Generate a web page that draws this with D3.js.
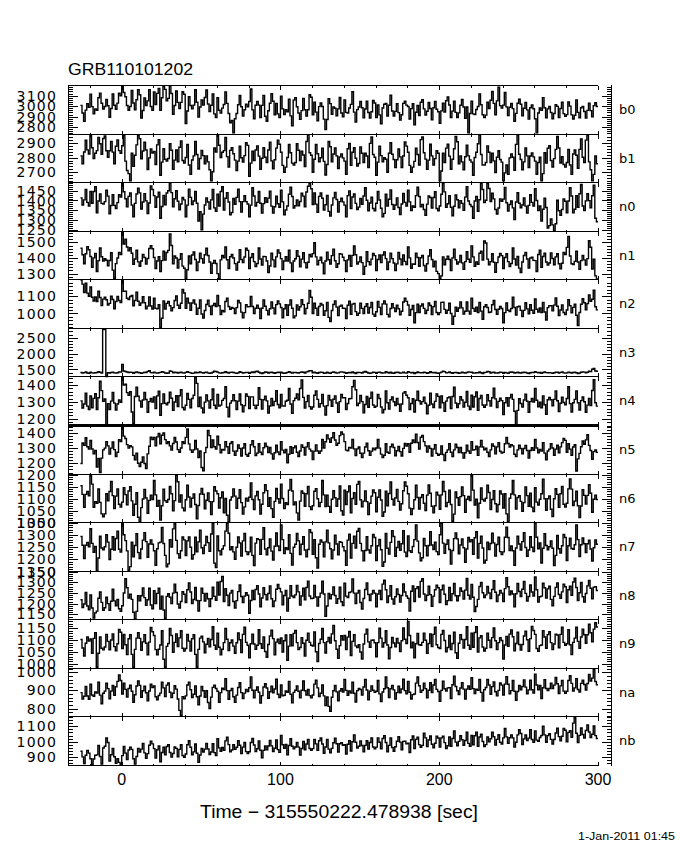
<!DOCTYPE html>
<html>
<head>
    <script src="https://d3js.org/d3.v7.min.js"></script>
    <title>GRB110101202</title>
</head>
<style>
    body {
        margin: 0;
        background-color: white;
    }
    text {
        font-family: 'DejaVu Sans';
        fill: black;
    }
</style>
<body>
<div id="chart"></div>
</body>
</html>

<script>
  // detectors, top panel first
  var detectors = ["b0", "b1", "n0", "n1", "n2", "n3", "n4", "n5", "n6", "n7", "n8", "n9", "na", "nb"];

  // y range and labelled tick step of every panel (counts / bin)
  var yRanges = [[2729, 3197], [2629, 2959], [1241, 1492], [1262, 1570], [912, 1199], [1278, 2794], [1160, 1451],
                 [1127, 1450], [1000, 1200], [1150, 1350], [1126, 1350], [980, 1188], [756, 1021], [846, 1163]];
  var ySteps = [100, 100, 50, 100, 100, 500, 100, 100, 50, 50, 50, 50, 100, 100];

  var xRange = [-33.5, 300];
  var xTickLabels = [0, 100, 200, 300];

  // light curves, 1 s bins starting at -26 s
  var binStart = -26;
  var binWidth = 1;

  var b0 = [3007, 2935, 2854, 2962, 3024, 2988, 3115, 2995, 2926, 2974, 2960, 3080, 3124, 3028, 2973, 2997, 3064, 3004, 2894, 2978,
            3116, 3008, 2969, 3029, 3123, 3099, 3190, 3130, 3090, 3006, 2960, 2996, 3150, 3030, 2965, 3061, 3156, 3108, 2886, 2958,
            3077, 3005, 3050, 3158, 2996, 2960, 3136, 3016, 3122, 3170, 2960, 3080, 3190, 3160, 3050, 3074, 3195, 3120, 2922, 3006,
            3144, 3036, 2976, 3036, 3137, 3113, 2834, 2954, 3090, 3006, 2974, 3010, 3157, 3037, 2895, 2991, 3058, 3010, 3082, 3154,
            3021, 2949, 3008, 3116, 2926, 2890, 3080, 2960, 2933, 2981, 3016, 3136, 3026, 2930, 2840, 2864, 2745, 2880, 2929, 3013,
            3102, 2994, 2906, 2966, 3018, 2994, 3044, 3164, 2964, 2880, 3009, 3045, 3010, 2890, 3007, 3103, 2904, 2856, 2956, 3028,
            3119, 3047, 2917, 3025, 2926, 2890, 3094, 2974, 2919, 2967, 2946, 3066, 2907, 2811, 3057, 3081, 2994, 2934, 2873, 2957,
            3074, 2966, 2906, 2966, 3109, 3085, 2918, 3038, 2943, 2859, 2995, 3031, 2996, 2876, 2776, 2872, 3072, 3024, 2921, 2993,
            2980, 2908, 2974, 3082, 2934, 2898, 3060, 2940, 2934, 2982, 3017, 3137, 2943, 2847, 2967, 2991, 3044, 2984, 2888, 2972,
            3047, 2939, 2886, 2946, 3054, 3030, 2891, 3011, 2916, 2832, 2982, 3018, 3025, 2905, 3008, 3104, 2954, 2906, 2950, 3022,
            2938, 2866, 2918, 3026, 3046, 3010, 2997, 2877, 2976, 3024, 2821, 2941, 3006, 2910, 3037, 3061, 2974, 2914, 2951, 3035,
            2977, 2869, 2984, 3044, 2970, 2946, 2835, 2955, 3028, 2944, 3052, 3088, 3011, 2891, 2952, 3048, 2940, 2892, 2936, 3008,
            3064, 2992, 2883, 2991, 2745, 2930, 3046, 2926, 2920, 2968, 2996, 3116, 3013, 2917, 2890, 2914, 3037, 2977, 3056, 3140,
            3026, 2918, 3050, 3180, 3005, 2981, 3010, 3130, 2993, 2909, 2989, 3025, 2976, 2856, 2931, 3027, 3066, 3018, 2908, 2980,
            3036, 2964, 2876, 2984, 3011, 2975, 2880, 2745, 2934, 2982, 2961, 3081, 2985, 2889, 2974, 2998, 2939, 2879, 2930, 3014,
            2998, 2890, 2977, 3037, 2928, 2904, 2919, 3039, 3000, 2916, 2877, 2913, 3060, 2940, 2889, 2985, 2996, 2948, 2887, 2959,
            3029, 2957, 2897, 3005, 3032, 2996];

  var b1 = [2812, 2758, 2839, 2919, 2853, 2825, 2955, 2868, 2794, 2830, 2848, 2938, 2895, 2823, 2931, 2949, 2847, 2803, 2847, 2911,
            2838, 2758, 2878, 2922, 2848, 2830, 2882, 2952, 2776, 2712, 2690, 2640, 2830, 2740, 2816, 2888, 2952, 2930, 2792, 2846,
            2906, 2852, 2718, 2798, 2860, 2832, 2843, 2753, 2888, 2924, 2679, 2769, 2861, 2789, 2776, 2794, 2895, 2851, 2719, 2783,
            2852, 2772, 2871, 2915, 2780, 2762, 2801, 2891, 2749, 2685, 2784, 2812, 2911, 2821, 2722, 2794, 2850, 2814, 2758, 2812,
            2771, 2717, 2640, 2703, 2866, 2838, 2955, 2885, 2801, 2837, 2848, 2938, 2807, 2735, 2850, 2868, 2827, 2783, 2712, 2776,
            2879, 2799, 2770, 2814, 2902, 2884, 2672, 2762, 2844, 2780, 2852, 2880, 2810, 2720, 2796, 2868, 2803, 2767, 2852, 2906,
            2778, 2724, 2785, 2865, 2920, 2892, 2837, 2747, 2699, 2735, 2801, 2891, 2834, 2762, 2749, 2767, 2895, 2851, 2780, 2844,
            2818, 2738, 2911, 2955, 2834, 2816, 2699, 2789, 2891, 2827, 2771, 2799, 2864, 2774, 2681, 2753, 2911, 2875, 2771, 2825,
            2866, 2812, 2725, 2805, 2826, 2798, 2776, 2686, 2861, 2897, 2747, 2837, 2868, 2796, 2742, 2760, 2874, 2830, 2766, 2830,
            2811, 2731, 2898, 2942, 2821, 2803, 2679, 2769, 2878, 2814, 2771, 2799, 2789, 2699, 2830, 2902, 2823, 2787, 2731, 2785,
            2859, 2805, 2731, 2811, 2907, 2879, 2837, 2747, 2699, 2735, 2774, 2864, 2821, 2749, 2924, 2942, 2834, 2790, 2719, 2783,
            2892, 2812, 2749, 2793, 2848, 2830, 2640, 2708, 2830, 2766, 2865, 2893, 2810, 2720, 2789, 2861, 2945, 2909, 2758, 2812,
            2771, 2717, 2806, 2886, 2812, 2784, 2769, 2679, 2801, 2837, 2895, 2955, 2821, 2749, 2749, 2767, 2881, 2837, 2766, 2830,
            2778, 2698, 2803, 2847, 2787, 2769, 2640, 2695, 2749, 2685, 2798, 2826, 2803, 2713, 2891, 2955, 2823, 2787, 2717, 2771,
            2866, 2812, 2731, 2811, 2833, 2805, 2776, 2686, 2767, 2803, 2640, 2690, 2834, 2762, 2864, 2882, 2780, 2736, 2793, 2857,
            2946, 2866, 2763, 2807, 2753, 2735, 2767, 2857, 2749, 2685, 2825, 2853, 2816, 2726, 2857, 2929, 2803, 2767, 2920, 2955,
            2771, 2717, 2640, 2685, 2812, 2758];

  var n0 = [1413, 1377, 1403, 1457, 1390, 1372, 1446, 1386, 1446, 1470, 1337, 1397, 1433, 1385, 1382, 1394, 1452, 1422, 1332, 1374,
            1429, 1375, 1359, 1389, 1429, 1417, 1486, 1445, 1409, 1367, 1421, 1439, 1376, 1316, 1385, 1433, 1463, 1439, 1356, 1392,
            1434, 1398, 1333, 1387, 1474, 1456, 1425, 1365, 1418, 1442, 1309, 1369, 1426, 1378, 1438, 1450, 1488, 1440, 1367, 1409,
            1450, 1396, 1352, 1382, 1415, 1403, 1316, 1376, 1458, 1416, 1379, 1397, 1446, 1386, 1294, 1342, 1250, 1330, 1377, 1413,
            1392, 1356, 1403, 1457, 1362, 1344, 1432, 1372, 1446, 1470, 1351, 1411, 1440, 1392, 1326, 1338, 1410, 1380, 1416, 1458,
            1394, 1340, 1394, 1424, 1394, 1382, 1316, 1376, 1465, 1423, 1372, 1390, 1446, 1386, 1336, 1384, 1414, 1390, 1412, 1448,
            1371, 1335, 1368, 1422, 1383, 1365, 1453, 1393, 1327, 1351, 1372, 1432, 1468, 1420, 1361, 1373, 1403, 1373, 1395, 1437,
            1422, 1368, 1443, 1473, 1488, 1460, 1379, 1439, 1381, 1339, 1421, 1439, 1411, 1351, 1378, 1426, 1344, 1320, 1377, 1413,
            1441, 1405, 1340, 1394, 1411, 1393, 1376, 1316, 1425, 1449, 1358, 1418, 1433, 1385, 1354, 1366, 1410, 1380, 1423, 1465,
            1401, 1347, 1387, 1417, 1359, 1347, 1386, 1446, 1402, 1360, 1316, 1334, 1432, 1372, 1406, 1454, 1379, 1355, 1377, 1413,
            1364, 1328, 1382, 1436, 1390, 1372, 1453, 1393, 1348, 1372, 1365, 1425, 1468, 1420, 1368, 1380, 1354, 1324, 1381, 1423,
            1415, 1361, 1415, 1445, 1359, 1347, 1372, 1432, 1486, 1444, 1365, 1383, 1425, 1365, 1322, 1370, 1428, 1404, 1363, 1399,
            1385, 1349, 1417, 1471, 1397, 1379, 1369, 1309, 1397, 1421, 1344, 1404, 1488, 1456, 1389, 1401, 1488, 1461, 1395, 1437,
            1408, 1354, 1331, 1361, 1408, 1396, 1407, 1467, 1388, 1346, 1379, 1397, 1362, 1302, 1392, 1440, 1386, 1362, 1377, 1413,
            1371, 1335, 1375, 1429, 1390, 1372, 1460, 1400, 1348, 1372, 1295, 1355, 1412, 1364, 1259, 1271, 1305, 1275, 1246, 1281,
            1401, 1347, 1324, 1354, 1408, 1396, 1337, 1397, 1465, 1423, 1337, 1355, 1425, 1365, 1434, 1482, 1372, 1348, 1398, 1434,
            1399, 1363, 1424, 1478, 1309, 1291];

  var n1 = [1463, 1421, 1363, 1427, 1473, 1453, 1410, 1340, 1401, 1429, 1313, 1383, 1464, 1408, 1381, 1395, 1386, 1350, 1384, 1434,
            1322, 1270, 1364, 1400, 1436, 1422, 1565, 1490, 1521, 1471, 1446, 1466, 1430, 1360, 1394, 1450, 1375, 1347, 1381, 1423,
            1403, 1361, 1397, 1461, 1479, 1459, 1403, 1333, 1381, 1409, 1313, 1383, 1443, 1387, 1435, 1449, 1555, 1480, 1363, 1413,
            1400, 1336, 1391, 1427, 1348, 1334, 1270, 1325, 1413, 1363, 1419, 1439, 1390, 1320, 1374, 1430, 1396, 1368, 1421, 1463,
            1416, 1374, 1302, 1366, 1385, 1365, 1300, 1268, 1388, 1416, 1401, 1471, 1389, 1333, 1408, 1422, 1400, 1364, 1323, 1373,
            1454, 1390, 1370, 1406, 1463, 1449, 1333, 1403, 1427, 1377, 1345, 1365, 1464, 1394, 1354, 1410, 1409, 1381, 1307, 1349,
            1430, 1388, 1343, 1407, 1452, 1432, 1396, 1326, 1381, 1409, 1380, 1450, 1369, 1313, 1381, 1395, 1447, 1411, 1343, 1393,
            1434, 1370, 1337, 1373, 1422, 1408, 1428, 1498, 1407, 1357, 1385, 1405, 1369, 1299, 1381, 1437, 1389, 1361, 1415, 1457,
            1382, 1340, 1363, 1427, 1425, 1405, 1383, 1313, 1388, 1416, 1347, 1417, 1477, 1421, 1361, 1375, 1406, 1370, 1296, 1346,
            1441, 1377, 1357, 1393, 1429, 1415, 1320, 1390, 1420, 1370, 1419, 1439, 1396, 1326, 1374, 1430, 1396, 1368, 1320, 1362,
            1436, 1394, 1356, 1420, 1378, 1358, 1471, 1401, 1334, 1362, 1360, 1430, 1403, 1347, 1402, 1416, 1352, 1316, 1363, 1413,
            1454, 1390, 1343, 1379, 1314, 1300, 1266, 1285, 1407, 1357, 1392, 1412, 1390, 1320, 1401, 1457, 1389, 1361, 1374, 1416,
            1369, 1327, 1377, 1441, 1392, 1372, 1477, 1407, 1347, 1375, 1360, 1430, 1443, 1387, 1510, 1496, 1393, 1357, 1377, 1427,
            1373, 1309, 1370, 1406, 1429, 1415, 1333, 1403, 1427, 1377, 1345, 1365, 1464, 1394, 1354, 1410, 1335, 1307, 1374, 1416,
            1436, 1394, 1336, 1400, 1405, 1385, 1383, 1313, 1422, 1450, 1340, 1410, 1430, 1374, 1354, 1368, 1433, 1397, 1357, 1407,
            1427, 1363, 1330, 1366, 1436, 1422, 1468, 1538, 1413, 1363, 1358, 1378, 1444, 1374, 1327, 1383, 1416, 1388, 1354, 1396,
            1511, 1469, 1329, 1393, 1285, 1266];

  var n2 = [1196, 1172, 1123, 1177, 1119, 1101, 1155, 1095, 1073, 1097, 1070, 1130, 1094, 1046, 1084, 1096, 1080, 1050, 1059, 1101,
            1082, 1028, 1070, 1100, 1076, 1064, 1195, 1130, 1131, 1089, 1081, 1099, 1105, 1045, 1076, 1124, 1072, 1048, 1062, 1098,
            1063, 1027, 1043, 1097, 1044, 1026, 1090, 1030, 1028, 1052, 918, 972, 1074, 1026, 1059, 1071, 1045, 1015, 1034, 1076,
            1102, 1048, 1030, 1060, 1140, 1120, 1030, 1090, 1061, 1019, 1061, 1079, 1055, 995, 1031, 1079, 997, 973, 1017, 1053,
            1078, 1042, 993, 1047, 1059, 1041, 1105, 1045, 993, 1017, 1010, 1070, 1089, 1041, 1024, 1036, 1030, 1000, 1034, 1076,
            1062, 1008, 975, 1005, 1051, 1039, 1040, 1100, 1041, 999, 1031, 1049, 1030, 970, 1031, 1079, 1042, 1018, 992, 1028,
            1068, 1032, 998, 1052, 1074, 1056, 1035, 975, 1028, 1052, 990, 1050, 1079, 1031, 974, 986, 1050, 1020, 1039, 1081,
            1052, 998, 1030, 1060, 1135, 1095, 1000, 1060, 1031, 989, 1041, 1059, 1050, 990, 1016, 1064, 977, 953, 1017, 1053,
            1073, 1037, 988, 1042, 1049, 1031, 1030, 970, 1048, 1072, 995, 1055, 1059, 1011, 989, 1001, 1060, 1030, 999, 1041,
            1057, 1003, 1035, 1065, 996, 984, 1010, 1070, 1036, 994, 1056, 1074, 1055, 995, 981, 1029, 1057, 1033, 1012, 1048,
            1028, 992, 1013, 1067, 1089, 1071, 1050, 990, 1023, 1047, 945, 1005, 1054, 1006, 1044, 1056, 1030, 1000, 1019, 1061,
            1047, 993, 1040, 1070, 1006, 994, 1005, 1065, 1066, 1024, 1001, 1019, 1060, 1000, 936, 984, 1037, 1013, 1032, 1068,
            1033, 997, 1013, 1067, 1014, 996, 1090, 1030, 1013, 1037, 1005, 1065, 1014, 966, 1039, 1051, 1035, 1005, 1009, 1051,
            1077, 1023, 995, 1025, 1041, 1029, 945, 1005, 1061, 1019, 1011, 1029, 1095, 1035, 991, 1039, 1042, 1018, 982, 1018,
            1063, 1027, 998, 1052, 1019, 1001, 1085, 1025, 1008, 1032, 1005, 1065, 1009, 961, 1034, 1046, 1045, 1015, 1049, 1091,
            1042, 988, 1020, 1050, 1006, 994, 1020, 1080, 1046, 1004, 1036, 1054, 990, 930, 1006, 1054, 1087, 1063, 1022, 1058,
            1108, 1072, 1083, 1137, 1039, 1021];

  var n3 = [1402, 1388, 1399, 1421, 1389, 1381, 1417, 1393, 1385, 1395, 1403, 1427, 1410, 1390, 2760, 2760, 1279, 1395, 1387, 1403,
            1416, 1394, 1384, 1396, 1422, 1418, 1660, 1450, 1438, 1422, 1406, 1414, 1407, 1383, 1405, 1425, 1405, 1395, 1378, 1392,
            1417, 1403, 1439, 1461, 1399, 1391, 1417, 1393, 1385, 1395, 1408, 1432, 1410, 1390, 1383, 1387, 1451, 1439, 1397, 1413,
            1406, 1384, 1404, 1416, 1392, 1388, 1408, 1432, 1408, 1392, 1376, 1384, 1417, 1393, 1405, 1425, 1400, 1390, 1403, 1417,
            1392, 1378, 1389, 1411, 1444, 1436, 1417, 1393, 1385, 1395, 1403, 1427, 1405, 1385, 1408, 1412, 1406, 1394, 1377, 1393,
            1431, 1409, 1389, 1401, 1407, 1403, 1378, 1402, 1418, 1402, 1436, 1444, 1412, 1388, 1375, 1395, 1420, 1410, 1388, 1402,
            1412, 1398, 1379, 1401, 1414, 1406, 1412, 1388, 1380, 1390, 1408, 1432, 1405, 1385, 1403, 1407, 1396, 1384, 1407, 1423,
            1411, 1389, 1424, 1436, 1462, 1458, 1393, 1417, 1398, 1382, 1406, 1414, 1407, 1383, 1390, 1410, 1390, 1380, 1408, 1422,
            1402, 1388, 1394, 1416, 1424, 1416, 1402, 1378, 1395, 1405, 1398, 1422, 1395, 1375, 1403, 1407, 1401, 1389, 1422, 1438,
            1411, 1389, 1379, 1391, 1412, 1408, 1383, 1407, 1413, 1397, 1386, 1394, 1427, 1403, 1390, 1410, 1390, 1380, 1403, 1417,
            1402, 1388, 1394, 1416, 1394, 1386, 1432, 1408, 1395, 1405, 1373, 1397, 1420, 1400, 1393, 1397, 1411, 1399, 1382, 1398,
            1426, 1404, 1394, 1406, 1387, 1383, 1393, 1417, 1448, 1432, 1391, 1399, 1422, 1398, 1380, 1400, 1405, 1395, 1378, 1392,
            1412, 1398, 1384, 1406, 1424, 1416, 1412, 1388, 1385, 1395, 1398, 1422, 1395, 1375, 1403, 1407, 1441, 1429, 1387, 1403,
            1411, 1389, 1384, 1396, 1412, 1408, 1383, 1407, 1393, 1377, 1411, 1419, 1412, 1388, 1395, 1415, 1395, 1385, 1403, 1417,
            1402, 1388, 1374, 1396, 1409, 1401, 1432, 1408, 1395, 1405, 1378, 1402, 1420, 1400, 1393, 1397, 1391, 1379, 1397, 1413,
            1411, 1389, 1409, 1421, 1392, 1388, 1393, 1417, 1403, 1387, 1406, 1414, 1397, 1373, 1390, 1410, 1425, 1415, 1398, 1412,
            1447, 1433, 1509, 1531, 1454, 1446];

  var n4 = [1306, 1264, 1288, 1352, 1275, 1255, 1335, 1265, 1321, 1349, 1255, 1325, 1423, 1367, 1303, 1317, 1166, 1290, 1255, 1305,
            1357, 1293, 1252, 1288, 1312, 1298, 1448, 1400, 1405, 1355, 1340, 1360, 1240, 1170, 1332, 1388, 1334, 1306, 1269, 1311,
            1356, 1314, 1238, 1302, 1320, 1300, 1330, 1260, 1336, 1364, 1220, 1290, 1348, 1292, 1283, 1297, 1358, 1322, 1250, 1300,
            1337, 1273, 1337, 1373, 1267, 1253, 1280, 1350, 1315, 1265, 1320, 1340, 1448, 1410, 1272, 1328, 1264, 1236, 1299, 1341,
            1306, 1264, 1313, 1377, 1280, 1260, 1345, 1275, 1281, 1309, 1320, 1390, 1268, 1212, 1293, 1307, 1343, 1307, 1255, 1305,
            1347, 1283, 1242, 1278, 1347, 1333, 1260, 1330, 1330, 1280, 1260, 1280, 1385, 1315, 1257, 1313, 1334, 1306, 1234, 1276,
            1321, 1279, 1303, 1367, 1285, 1265, 1345, 1275, 1276, 1304, 1310, 1380, 1288, 1232, 1308, 1322, 1348, 1312, 1380, 1430,
            1327, 1263, 1302, 1338, 1272, 1258, 1270, 1340, 1365, 1315, 1270, 1290, 1345, 1275, 1222, 1278, 1339, 1311, 1274, 1316,
            1336, 1294, 1238, 1302, 1345, 1325, 1325, 1255, 1291, 1319, 1320, 1390, 1428, 1372, 1278, 1292, 1338, 1302, 1235, 1285,
            1332, 1268, 1322, 1358, 1282, 1268, 1275, 1345, 1320, 1270, 1235, 1255, 1365, 1295, 1257, 1313, 1329, 1301, 1279, 1321,
            1286, 1244, 1288, 1352, 1360, 1340, 1325, 1255, 1291, 1319, 1240, 1310, 1363, 1307, 1288, 1302, 1328, 1292, 1230, 1280,
            1352, 1288, 1267, 1303, 1347, 1333, 1265, 1335, 1295, 1245, 1305, 1325, 1330, 1260, 1332, 1388, 1294, 1266, 1289, 1331,
            1311, 1269, 1298, 1362, 1275, 1255, 1340, 1270, 1331, 1359, 1250, 1320, 1338, 1282, 1268, 1282, 1343, 1307, 1275, 1325,
            1382, 1318, 1267, 1303, 1322, 1308, 1225, 1295, 1325, 1275, 1325, 1345, 1315, 1245, 1166, 1250, 1319, 1291, 1269, 1311,
            1346, 1304, 1238, 1302, 1320, 1300, 1380, 1310, 1271, 1299, 1265, 1335, 1283, 1227, 1313, 1327, 1313, 1277, 1315, 1365,
            1307, 1243, 1292, 1328, 1297, 1283, 1320, 1390, 1290, 1240, 1295, 1315, 1365, 1295, 1252, 1308, 1329, 1301, 1239, 1281,
            1321, 1279, 1368, 1432, 1295, 1275];

  var n5 = [1200, 1335, 1319, 1369, 1310, 1294, 1351, 1295, 1263, 1285, 1176, 1232, 1140, 1235, 1289, 1301, 1344, 1316, 1261, 1301,
            1341, 1291, 1246, 1274, 1357, 1345, 1447, 1380, 1364, 1324, 1301, 1317, 1309, 1253, 1224, 1268, 1201, 1179, 1208, 1242,
            1200, 1166, 1263, 1313, 1373, 1357, 1372, 1316, 1375, 1397, 1330, 1386, 1401, 1357, 1331, 1343, 1316, 1288, 1331, 1371,
            1341, 1291, 1274, 1302, 1343, 1331, 1372, 1428, 1329, 1289, 1273, 1289, 1351, 1295, 1238, 1282, 1173, 1151, 1271, 1305,
            1417, 1383, 1305, 1355, 1310, 1294, 1379, 1323, 1270, 1292, 1288, 1344, 1310, 1266, 1331, 1343, 1281, 1253, 1282, 1322,
            1299, 1249, 1302, 1330, 1259, 1247, 1267, 1323, 1350, 1310, 1252, 1268, 1330, 1274, 1259, 1303, 1334, 1312, 1271, 1305,
            1263, 1229, 1270, 1320, 1275, 1259, 1344, 1288, 1270, 1292, 1204, 1260, 1310, 1266, 1303, 1315, 1274, 1246, 1282, 1322,
            1306, 1256, 1309, 1337, 1294, 1282, 1225, 1281, 1322, 1282, 1266, 1282, 1358, 1302, 1343, 1387, 1362, 1340, 1369, 1403,
            1354, 1320, 1333, 1383, 1408, 1392, 1344, 1288, 1284, 1306, 1302, 1358, 1296, 1252, 1296, 1308, 1267, 1239, 1268, 1308,
            1334, 1284, 1253, 1281, 1301, 1289, 1302, 1358, 1301, 1261, 1238, 1254, 1330, 1274, 1266, 1310, 1327, 1305, 1250, 1284,
            1312, 1278, 1249, 1299, 1331, 1315, 1330, 1274, 1333, 1355, 1337, 1393, 1338, 1294, 1373, 1385, 1344, 1316, 1275, 1315,
            1299, 1249, 1295, 1323, 1266, 1254, 1260, 1316, 1259, 1219, 1273, 1289, 1330, 1274, 1245, 1289, 1327, 1305, 1271, 1305,
            1270, 1236, 1270, 1320, 1282, 1266, 1344, 1288, 1291, 1313, 1253, 1309, 1352, 1308, 1289, 1301, 1274, 1246, 1289, 1329,
            1313, 1263, 1309, 1337, 1280, 1268, 1274, 1330, 1371, 1331, 1308, 1324, 1316, 1260, 1245, 1289, 1320, 1298, 1264, 1298,
            1319, 1285, 1235, 1285, 1303, 1287, 1358, 1302, 1270, 1292, 1281, 1337, 1268, 1224, 1282, 1294, 1330, 1302, 1254, 1294,
            1320, 1270, 1309, 1337, 1364, 1352, 1274, 1330, 1294, 1254, 1308, 1324, 1150, 1230, 1266, 1310, 1348, 1326, 1355, 1389,
            1319, 1285, 1228, 1278, 1289, 1273];

  var n6 = [1153, 1117, 1063, 1117, 1129, 1111, 1197, 1160, 1063, 1087, 1080, 1140, 1084, 1036, 1024, 1036, 1120, 1090, 1129, 1171,
            1112, 1058, 1110, 1140, 1076, 1064, 1085, 1145, 1116, 1074, 1131, 1149, 1090, 1030, 1076, 1124, 1022, 1003, 1062, 1098,
            1138, 1102, 1038, 1092, 1114, 1096, 1175, 1115, 1068, 1092, 1010, 1070, 1139, 1091, 1084, 1096, 1150, 1120, 1049, 1091,
            1197, 1170, 1085, 1115, 1061, 1049, 1095, 1155, 1106, 1064, 1101, 1119, 1075, 1015, 1071, 1119, 1142, 1118, 1057, 1093,
            1123, 1087, 1033, 1087, 1149, 1131, 1120, 1060, 1103, 1127, 1040, 1100, 1030, 1003, 1094, 1106, 1140, 1110, 1059, 1101,
            1137, 1083, 1035, 1065, 1101, 1089, 1105, 1165, 1096, 1054, 1111, 1129, 1095, 1035, 1076, 1124, 1157, 1133, 1067, 1103,
            1058, 1022, 1088, 1142, 1099, 1081, 1160, 1100, 1058, 1082, 1075, 1135, 1179, 1131, 1074, 1086, 1040, 1010, 1089, 1131,
            1122, 1068, 1120, 1150, 1066, 1054, 1070, 1130, 1141, 1099, 1066, 1084, 1175, 1115, 1066, 1114, 1067, 1043, 1097, 1133,
            1103, 1067, 1098, 1152, 1049, 1031, 1135, 1075, 1128, 1152, 1040, 1100, 1124, 1076, 1159, 1171, 1095, 1065, 1089, 1131,
            1087, 1033, 1080, 1110, 1136, 1124, 1045, 1105, 1136, 1094, 1026, 1044, 1130, 1070, 1121, 1169, 1097, 1073, 1102, 1138,
            1088, 1052, 1078, 1132, 1169, 1151, 1120, 1060, 1033, 1057, 1095, 1155, 1104, 1056, 1104, 1116, 1080, 1050, 1114, 1156,
            1122, 1068, 1040, 1070, 1126, 1114, 1055, 1115, 1171, 1129, 1066, 1084, 1135, 1075, 1005, 1035, 1127, 1103, 1072, 1108,
            1148, 1112, 1043, 1097, 1109, 1091, 1195, 1135, 1073, 1097, 1020, 1080, 1144, 1096, 1089, 1101, 1155, 1125, 1054, 1096,
            1132, 1078, 1045, 1075, 1131, 1119, 1060, 1120, 1036, 1004, 1101, 1119, 1175, 1115, 1056, 1104, 1112, 1088, 1047, 1083,
            1148, 1112, 1068, 1122, 1064, 1046, 1145, 1085, 1073, 1097, 1120, 1180, 1099, 1051, 1099, 1111, 1055, 1025, 1099, 1141,
            1117, 1063, 1120, 1150, 1076, 1064, 1080, 1140, 1181, 1139, 1071, 1089, 1130, 1070, 1021, 1069, 1137, 1113, 1077, 1113,
            1158, 1122, 1043, 1097, 1114, 1096];

  var n7 = [1293, 1257, 1203, 1257, 1269, 1251, 1325, 1265, 1228, 1252, 1153, 1205, 1294, 1246, 1239, 1251, 1300, 1270, 1199, 1241,
            1292, 1238, 1285, 1315, 1241, 1229, 1345, 1300, 1276, 1234, 1155, 1170, 1270, 1210, 1256, 1304, 1227, 1203, 1242, 1278,
            1308, 1272, 1208, 1262, 1279, 1261, 1235, 1175, 1243, 1267, 1270, 1330, 1264, 1216, 1169, 1181, 1280, 1250, 1324, 1347,
            1277, 1223, 1205, 1235, 1291, 1279, 1215, 1275, 1291, 1249, 1201, 1219, 1290, 1230, 1271, 1319, 1247, 1223, 1257, 1293,
            1268, 1232, 1303, 1347, 1184, 1166, 1295, 1235, 1218, 1242, 1255, 1315, 1347, 1306, 1239, 1251, 1230, 1200, 1249, 1291,
            1267, 1213, 1275, 1305, 1231, 1219, 1230, 1290, 1216, 1174, 1266, 1284, 1280, 1220, 1281, 1329, 1242, 1218, 1247, 1283,
            1233, 1197, 1253, 1307, 1254, 1236, 1340, 1280, 1223, 1247, 1240, 1300, 1224, 1176, 1249, 1261, 1305, 1275, 1219, 1261,
            1292, 1238, 1210, 1240, 1321, 1309, 1220, 1280, 1206, 1164, 1261, 1279, 1270, 1210, 1271, 1319, 1267, 1243, 1202, 1238,
            1298, 1262, 1218, 1272, 1269, 1251, 1235, 1175, 1278, 1302, 1205, 1265, 1294, 1246, 1314, 1326, 1265, 1235, 1194, 1236,
            1292, 1238, 1225, 1255, 1301, 1289, 1195, 1255, 1281, 1239, 1171, 1189, 1305, 1245, 1221, 1269, 1317, 1293, 1212, 1248,
            1273, 1237, 1263, 1317, 1229, 1211, 1295, 1235, 1228, 1252, 1280, 1340, 1274, 1226, 1194, 1206, 1285, 1255, 1214, 1256,
            1312, 1258, 1240, 1270, 1231, 1219, 1300, 1347, 1266, 1224, 1261, 1279, 1240, 1180, 1236, 1284, 1307, 1283, 1222, 1258,
            1283, 1247, 1188, 1242, 1289, 1271, 1280, 1220, 1288, 1312, 1205, 1265, 1294, 1246, 1184, 1196, 1270, 1240, 1264, 1306,
            1267, 1213, 1260, 1290, 1231, 1219, 1230, 1290, 1331, 1289, 1236, 1254, 1235, 1175, 1246, 1294, 1262, 1238, 1272, 1308,
            1248, 1212, 1238, 1292, 1249, 1231, 1347, 1290, 1243, 1267, 1185, 1245, 1304, 1256, 1239, 1251, 1275, 1245, 1174, 1216,
            1297, 1243, 1225, 1255, 1301, 1289, 1195, 1255, 1286, 1244, 1241, 1259, 1340, 1280, 1211, 1259, 1287, 1263, 1227, 1263,
            1278, 1242, 1193, 1247, 1279, 1261];

  var n8 = [1218, 1182, 1198, 1252, 1189, 1171, 1240, 1180, 1133, 1157, 1165, 1225, 1254, 1206, 1169, 1181, 1230, 1200, 1169, 1211,
            1267, 1213, 1190, 1220, 1176, 1164, 1190, 1250, 1316, 1274, 1226, 1244, 1220, 1160, 1130, 1164, 1237, 1213, 1237, 1273,
            1228, 1192, 1218, 1272, 1194, 1176, 1260, 1200, 1248, 1272, 1175, 1235, 1170, 1132, 1234, 1246, 1230, 1200, 1249, 1291,
            1252, 1198, 1180, 1210, 1256, 1244, 1205, 1265, 1296, 1254, 1201, 1219, 1275, 1215, 1166, 1214, 1272, 1248, 1212, 1248,
            1223, 1187, 1223, 1277, 1234, 1216, 1300, 1240, 1303, 1327, 1210, 1270, 1239, 1191, 1249, 1261, 1210, 1180, 1214, 1256,
            1287, 1233, 1205, 1235, 1251, 1239, 1155, 1215, 1261, 1219, 1266, 1284, 1245, 1185, 1226, 1274, 1242, 1218, 1247, 1283,
            1223, 1187, 1213, 1267, 1289, 1271, 1255, 1195, 1238, 1262, 1165, 1225, 1284, 1236, 1229, 1241, 1285, 1255, 1194, 1236,
            1272, 1218, 1275, 1305, 1236, 1224, 1225, 1285, 1231, 1189, 1231, 1249, 1305, 1245, 1141, 1189, 1247, 1223, 1242, 1278,
            1238, 1202, 1223, 1277, 1209, 1191, 1295, 1235, 1228, 1252, 1255, 1315, 1249, 1201, 1249, 1261, 1205, 1175, 1224, 1266,
            1297, 1243, 1215, 1245, 1261, 1249, 1185, 1245, 1261, 1219, 1291, 1309, 1265, 1205, 1236, 1284, 1222, 1198, 1232, 1268,
            1243, 1207, 1238, 1292, 1254, 1236, 1225, 1165, 1258, 1282, 1210, 1270, 1279, 1231, 1304, 1316, 1245, 1215, 1239, 1281,
            1242, 1188, 1235, 1265, 1286, 1274, 1205, 1265, 1286, 1244, 1196, 1214, 1275, 1215, 1246, 1294, 1237, 1213, 1237, 1273,
            1258, 1222, 1263, 1317, 1239, 1221, 1290, 1230, 1163, 1187, 1220, 1280, 1299, 1251, 1229, 1241, 1280, 1250, 1224, 1266,
            1307, 1253, 1210, 1240, 1261, 1249, 1210, 1270, 1321, 1279, 1241, 1259, 1245, 1185, 1246, 1294, 1257, 1233, 1267, 1303,
            1248, 1212, 1233, 1287, 1254, 1236, 1325, 1265, 1208, 1232, 1235, 1295, 1274, 1226, 1269, 1281, 1220, 1190, 1234, 1276,
            1297, 1243, 1225, 1255, 1291, 1279, 1205, 1265, 1281, 1239, 1301, 1319, 1275, 1215, 1251, 1299, 1232, 1208, 1247, 1283,
            1308, 1272, 1223, 1277, 1279, 1261];

  var n9 = [1103, 1067, 1033, 1087, 1114, 1096, 1105, 1045, 1108, 1132, 985, 1045, 1114, 1066, 1059, 1071, 1125, 1095, 1059, 1101,
            1127, 1073, 1055, 1085, 1146, 1134, 1065, 1125, 1081, 1039, 1106, 1124, 1040, 985, 1061, 1109, 1132, 1108, 1057, 1093,
            1123, 1087, 1038, 1092, 1154, 1136, 1120, 1060, 1038, 1062, 1080, 1140, 1019, 985, 1074, 1086, 1150, 1120, 1049, 1091,
            1127, 1073, 1110, 1140, 1066, 1054, 1065, 1125, 1096, 1054, 1106, 1124, 1040, 985, 1061, 1109, 1117, 1093, 1047, 1083,
            1108, 1072, 1103, 1157, 1079, 1061, 1130, 1070, 1038, 1062, 1090, 1150, 1104, 1056, 1089, 1101, 1075, 1045, 1089, 1131,
            1102, 1048, 1125, 1155, 1091, 1079, 1025, 1085, 1126, 1084, 1061, 1079, 1145, 1085, 1066, 1114, 1052, 1028, 1082, 1118,
            1143, 1107, 1038, 1092, 1104, 1086, 1110, 1050, 1098, 1122, 1015, 1075, 1124, 1076, 1129, 1141, 1090, 1060, 1069, 1111,
            1087, 1033, 1100, 1130, 1091, 1079, 1075, 1135, 1051, 1009, 1086, 1104, 1150, 1090, 1046, 1094, 1112, 1088, 1127, 1163,
            1098, 1062, 1023, 1077, 1119, 1101, 1120, 1060, 1113, 1137, 1035, 1095, 1124, 1076, 1069, 1081, 1050, 1020, 1084, 1126,
            1147, 1093, 1070, 1100, 1101, 1089, 1030, 1090, 1151, 1109, 1071, 1089, 1140, 1080, 1021, 1069, 1112, 1088, 1072, 1108,
            1088, 1052, 1098, 1152, 1104, 1086, 1180, 1120, 1068, 1092, 1025, 1085, 1129, 1081, 1079, 1091, 1130, 1100, 1044, 1086,
            1127, 1073, 1125, 1155, 1081, 1069, 1065, 1125, 1141, 1099, 1051, 1069, 1120, 1060, 1086, 1134, 1047, 1023, 1087, 1123,
            1103, 1067, 1103, 1157, 1079, 1061, 1130, 1070, 1133, 1157, 1050, 1110, 1119, 1071, 1054, 1066, 1130, 1100, 1069, 1111,
            1152, 1098, 1060, 1090, 1111, 1099, 1020, 1080, 1116, 1074, 1126, 1144, 1115, 1055, 1086, 1134, 1082, 1058, 1082, 1118,
            1138, 1102, 1053, 1107, 1159, 1141, 1125, 1065, 1053, 1077, 1080, 1140, 1114, 1066, 1124, 1136, 1090, 1060, 1084, 1126,
            1122, 1068, 1125, 1155, 1091, 1079, 1085, 1145, 1081, 1039, 1091, 1109, 1155, 1095, 1066, 1114, 1147, 1123, 1087, 1123,
            1168, 1132, 1093, 1147, 1174, 1156];

  var na = [888, 852, 868, 922, 869, 851, 935, 875, 868, 892, 885, 945, 874, 826, 884, 896, 940, 910, 854, 896,
            927, 873, 920, 950, 985, 955, 880, 940, 906, 864, 911, 929, 895, 835, 876, 924, 952, 928, 862, 898,
            923, 887, 843, 897, 934, 916, 925, 865, 848, 872, 885, 945, 914, 866, 929, 941, 890, 860, 884, 926,
            907, 853, 790, 760, 866, 854, 870, 930, 946, 904, 861, 879, 925, 865, 821, 869, 922, 898, 862, 898,
            833, 800, 863, 917, 929, 911, 895, 835, 888, 912, 905, 965, 899, 851, 899, 911, 865, 835, 874, 916,
            942, 888, 855, 885, 906, 894, 915, 975, 901, 859, 901, 919, 890, 830, 871, 919, 937, 913, 857, 893,
            923, 887, 908, 962, 879, 861, 930, 870, 873, 897, 890, 950, 879, 831, 889, 901, 925, 895, 859, 901,
            952, 898, 875, 905, 871, 859, 875, 935, 956, 914, 866, 884, 930, 870, 816, 864, 812, 785, 862, 898,
            928, 892, 843, 897, 909, 891, 960, 900, 873, 897, 885, 945, 884, 836, 899, 911, 905, 875, 919, 961,
            902, 848, 895, 925, 901, 889, 895, 955, 881, 839, 891, 909, 975, 915, 861, 909, 927, 903, 852, 888,
            923, 887, 908, 962, 899, 881, 950, 890, 853, 877, 880, 940, 974, 926, 889, 901, 940, 910, 859, 901,
            942, 888, 930, 960, 906, 894, 840, 900, 951, 909, 896, 914, 915, 855, 931, 979, 922, 898, 877, 913,
            943, 907, 853, 907, 924, 906, 970, 910, 883, 907, 900, 960, 889, 841, 904, 916, 960, 930, 879, 921,
            947, 893, 870, 900, 941, 929, 875, 935, 976, 934, 881, 899, 955, 895, 846, 894, 927, 903, 922, 958,
            918, 882, 903, 957, 904, 886, 990, 930, 903, 927, 855, 915, 959, 911, 899, 911, 940, 910, 929, 971,
            937, 883, 925, 955, 896, 884, 895, 955, 981, 939, 896, 914, 965, 905, 891, 939, 957, 933, 902, 938,
            988, 952, 968, 1015, 949, 931];

  var nb = [938, 902, 858, 912, 944, 926, 890, 852, 888, 912, 915, 975, 904, 856, 959, 971, 1025, 995, 874, 916,
            957, 903, 860, 890, 866, 854, 910, 970, 926, 884, 946, 964, 950, 890, 856, 904, 957, 933, 952, 988,
            928, 892, 923, 977, 1004, 986, 955, 895, 948, 972, 870, 930, 964, 916, 969, 981, 930, 900, 924, 966,
            957, 903, 950, 980, 911, 899, 920, 980, 1006, 964, 916, 934, 985, 925, 866, 914, 957, 933, 952, 988,
            953, 917, 933, 987, 929, 911, 1020, 960, 938, 962, 945, 1005, 1029, 981, 934, 946, 980, 950, 964, 1006,
            977, 923, 965, 995, 936, 924, 935, 995, 1021, 979, 936, 954, 1005, 945, 896, 944, 972, 948, 972, 1008,
            973, 937, 958, 1012, 949, 931, 1040, 980, 958, 982, 915, 975, 1019, 971, 954, 966, 995, 965, 914, 956,
            1002, 948, 985, 1015, 956, 944, 955, 1015, 986, 944, 1006, 1024, 985, 925, 966, 1014, 952, 928, 957, 993,
            1023, 987, 933, 987, 994, 976, 980, 920, 983, 1007, 940, 1000, 1044, 996, 959, 971, 1005, 975, 934, 976,
            1007, 953, 995, 1025, 966, 954, 965, 1025, 996, 954, 1021, 1039, 995, 935, 976, 1024, 962, 938, 967, 1003,
            1033, 997, 948, 1002, 1004, 986, 990, 930, 1013, 1037, 955, 1015, 1029, 981, 964, 976, 1055, 1025, 969, 1011,
            1037, 983, 960, 990, 1036, 1024, 965, 1025, 1036, 994, 956, 974, 1030, 970, 1021, 1069, 997, 973, 1002, 1038,
            1013, 977, 1008, 1062, 989, 971, 1040, 980, 1038, 1062, 970, 1030, 1049, 1001, 969, 981, 1030, 1000, 1019, 1061,
            1032, 978, 1015, 1045, 996, 984, 1025, 1085, 1031, 989, 1026, 1044, 1025, 965, 996, 1044, 1077, 1053, 982, 1018,
            1043, 1007, 1023, 1077, 1014, 996, 1070, 1010, 1003, 1027, 1040, 1100, 1044, 996, 1039, 1051, 1015, 985, 1014, 1056,
            1087, 1033, 1005, 1035, 1086, 1074, 1000, 1060, 1071, 1029, 1120, 1155, 1055, 995, 1041, 1089, 1047, 1023, 1072, 1108,
            1063, 1027, 1048, 1102, 1039, 1021];

  var counts = [b0, b1, n0, n1, n2, n3, n4, n5, n6, n7, n8, n9, na, nb];

  //LAYOUT
  var plotLeft = 68.5, plotRight = 598, plotTop = 85, plotBottom = 765;
  var rightAxisX = 611;
  var panelH = (plotBottom - plotTop) / detectors.length;
  var heavyBoundary = 7; // top edge of n5 prints as a heavier rule

  var svg = d3.select("#chart").append("svg")
      .attr("width", 680)
      .attr("height", 850)
      .style("background-color", "white");

  var x = d3.scaleLinear()
      .domain(xRange)
      .range([plotLeft, plotRight]);

  var xMinor = d3.range(-20, 301, 20);

  //PANELS
  detectors.forEach(function(name, p) {
      var y0 = Math.round(plotTop + p * panelH) + 0.5;
      var y1 = Math.round(plotTop + (p + 1) * panelH) + 0.5;
      var g = svg.append("g");

      var y = d3.scaleLinear()
          .domain(yRanges[p])
          .range([y1, y0]);

      // top and bottom frame lines
      g.selectAll("line.frame")
          .data([y0, y1])
          .enter()
          .append("line")
          .attr("x1", plotLeft)
          .attr("x2", plotRight)
          .attr("y1", function(d) { return d; })
          .attr("y2", function(d) { return d; })
          .attr("stroke", "black")
          .attr("stroke-width", function(d, k) { return (k === 0 && p === heavyBoundary) ? 3 : 1; })
          .attr("shape-rendering", "crispEdges");

      // x ticks on both frame lines, pointing inward
      xMinor.forEach(function(t) {
          var len = (t % 100 === 0) ? 4 : 2;
          [[y0, len], [y1, -len]].forEach(function(e) {
              g.append("line")
                  .attr("x1", Math.round(x(t)) + 0.5)
                  .attr("x2", Math.round(x(t)) + 0.5)
                  .attr("y1", e[0])
                  .attr("y2", e[0] + e[1])
                  .attr("stroke", "black")
                  .attr("shape-rendering", "crispEdges");
          });
      });

      // y ticks: left axis pointing right, right axis pointing left
      var step = ySteps[p];
      var minor = step / 5;
      var lo = yRanges[p][0], hi = yRanges[p][1];
      var ticks = d3.range(Math.ceil(lo / minor) * minor, hi + 0.001, minor);
      ticks.forEach(function(v) {
          var major = Math.abs(v / step - Math.round(v / step)) < 1e-6;
          var len = major ? 9 : 4;
          var yy = Math.round(y(v)) + 0.5;
          g.append("line")
              .attr("x1", plotLeft).attr("x2", plotLeft + len)
              .attr("y1", yy).attr("y2", yy)
              .attr("stroke", "black")
              .attr("shape-rendering", "crispEdges");
          g.append("line")
              .attr("x1", rightAxisX).attr("x2", rightAxisX - len)
              .attr("y1", yy).attr("y2", yy)
              .attr("stroke", "black")
              .attr("shape-rendering", "crispEdges");
      });

      // y labels
      var labels = ticks.filter(function(v) { return Math.abs(v / step - Math.round(v / step)) < 1e-6; });
      g.selectAll("text.ylab")
          .data(labels)
          .enter()
          .append("text")
          .attr("x", 57)
          .attr("y", function(d) { return y(d); })
          .attr("dy", "0.36em")
          .attr("text-anchor", "end")
          .style("font-size", "14px")
          .style("letter-spacing", "1.2px")
          .text(function(d) { return d3.format("d")(d); });

      // detector name on the right
      g.append("text")
          .attr("x", 619)
          .attr("y", (y0 + y1) / 2 + 4)
          .style("font-size", "13px")
          .text(name);

      // light curve as a histogram
      var vals = counts[p];
      var pts = vals.map(function(v, i) { return {t: binStart + i * binWidth, v: v}; });
      pts.push({t: binStart + vals.length * binWidth, v: vals[vals.length - 1]});

      var lineFunction = d3.line()
          .x(function(d) { return x(d.t); })
          .y(function(d) { return y(d.v); })
          .curve(d3.curveStepAfter);

      g.append("path")
          .attr("d", lineFunction(pts))
          .attr("stroke", "black")
          .attr("stroke-width", 1.4)
          .attr("fill", "none");
  });

  // left and right vertical axis lines
  svg.append("line")
      .attr("x1", plotLeft).attr("x2", plotLeft)
      .attr("y1", plotTop).attr("y2", plotBottom + 0.5)
      .attr("stroke", "black")
      .attr("shape-rendering", "crispEdges");

  svg.append("line")
      .attr("x1", rightAxisX).attr("x2", rightAxisX)
      .attr("y1", plotTop).attr("y2", plotBottom + 0.5)
      .attr("stroke", "black")
      .attr("shape-rendering", "crispEdges");

  //TEXT
  svg.selectAll("text.xlab")
      .data(xTickLabels)
      .enter()
      .append("text")
      .attr("x", function(d) { return x(d); })
      .attr("y", 785)
      .attr("text-anchor", "middle")
      .style("font-family", "'Liberation Sans'")
      .style("font-size", "16px")
      .text(function(d) { return d; });

  svg.append("text")
      .attr("x", 200)
      .attr("y", 818)
      .attr("textLength", 278)
      .attr("lengthAdjust", "spacingAndGlyphs")
      .style("font-family", "'Liberation Sans'")
      .style("font-size", "18px")
      .text("Time \u2212 315550222.478938 [sec]");

  svg.append("text")
      .attr("x", 68)
      .attr("y", 75)
      .attr("textLength", 125)
      .attr("lengthAdjust", "spacingAndGlyphs")
      .style("font-family", "'Liberation Sans'")
      .style("font-size", "16px")
      .text("GRB110101202");

  svg.append("text")
      .attr("x", 578)
      .attr("y", 840)
      .attr("textLength", 97)
      .attr("lengthAdjust", "spacingAndGlyphs")
      .style("font-family", "'Liberation Sans'")
      .style("font-size", "10px")
      .text("1-Jan-2011 01:45");
</script>
